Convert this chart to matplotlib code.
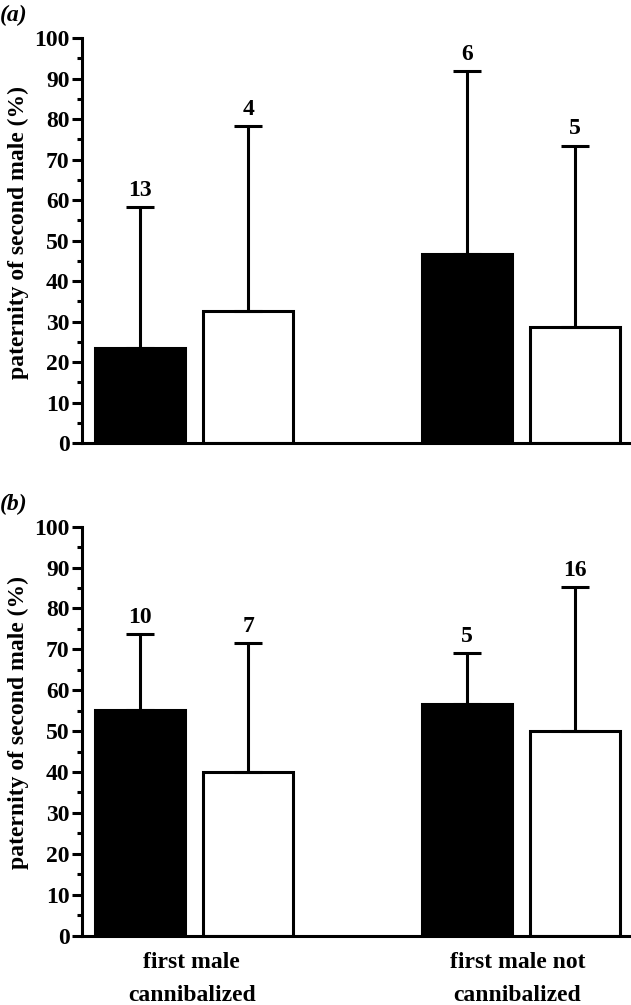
import matplotlib
matplotlib.use('Agg')
import matplotlib.pyplot as plt
import numpy as np
from matplotlib.ticker import MultipleLocator

plt.rcParams['font.family'] = ['Liberation Serif', 'DejaVu Serif']
plt.rcParams['font.size'] = 17
plt.rcParams['font.weight'] = 'bold'
plt.rcParams['axes.labelweight'] = 'bold'

# data
bar_pos = [0, 1.206, 3.64, 4.84]
bar_colors = ['black', 'white', 'black', 'white']

a_means = [23.4, 32.6, 46.8, 28.6]
a_upper = [58.3, 78.3, 91.9, 73.5]
a_n = ['13', '4', '6', '5']

b_means = [55.2, 40.1, 56.6, 50.0]
b_upper = [73.7, 71.6, 69.0, 85.3]
b_n = ['10', '7', '5', '16']

group_pos = [0.58, 4.2]
group_labels = ['first male\ncannibalized', 'first male not\ncannibalized']

ylabel = 'paternity of second male (%)'
LW = 2.2


def draw_panel(ax, means, upper, ns, tag, show_groups):
    err = [u - m for u, m in zip(upper, means)]
    ax.bar(bar_pos, means, width=1.0, color=bar_colors, edgecolor='black',
           linewidth=LW, zorder=2)
    ax.errorbar(bar_pos, means, yerr=[[0] * len(err), err], fmt='none',
                ecolor='black', elinewidth=LW, capsize=10, capthick=LW, zorder=3)
    for x, u, n in zip(bar_pos, upper, ns):
        ax.text(x, u + 1.5, n, ha='center', va='bottom')
    ax.set_ylim(0, 100)
    ax.set_xlim(-0.64, 5.46)
    ax.yaxis.set_major_locator(MultipleLocator(10))
    ax.yaxis.set_minor_locator(MultipleLocator(5))
    ax.tick_params(axis='y', which='major', length=7, width=LW, pad=2)
    ax.tick_params(axis='y', which='minor', length=3.5, width=LW)
    ax.spines['top'].set_visible(False)
    ax.spines['right'].set_visible(False)
    ax.spines['left'].set_linewidth(LW)
    ax.spines['bottom'].set_linewidth(LW)
    ax.set_ylabel(ylabel)
    ax.yaxis.set_label_coords(-0.097, 0.52)
    if show_groups:
        ax.set_xticks(group_pos)
        ax.set_xticklabels(group_labels, linespacing=1.75)
        ax.tick_params(axis='x', length=0, pad=12)
    else:
        ax.set_xticks([])
    ax.text(-0.149, 1.055, tag, transform=ax.transAxes,
            style='italic', ha='left', va='center')


fig = plt.figure(figsize=(6.31, 10.05), dpi=100)
ax1 = fig.add_axes([0.130, 0.559, 0.870, 0.403])
ax2 = fig.add_axes([0.130, 0.069, 0.870, 0.407])
draw_panel(ax1, a_means, a_upper, a_n, '(a)', False)
draw_panel(ax2, b_means, b_upper, b_n, '(b)', True)

fig.savefig('out.png', dpi=100)
